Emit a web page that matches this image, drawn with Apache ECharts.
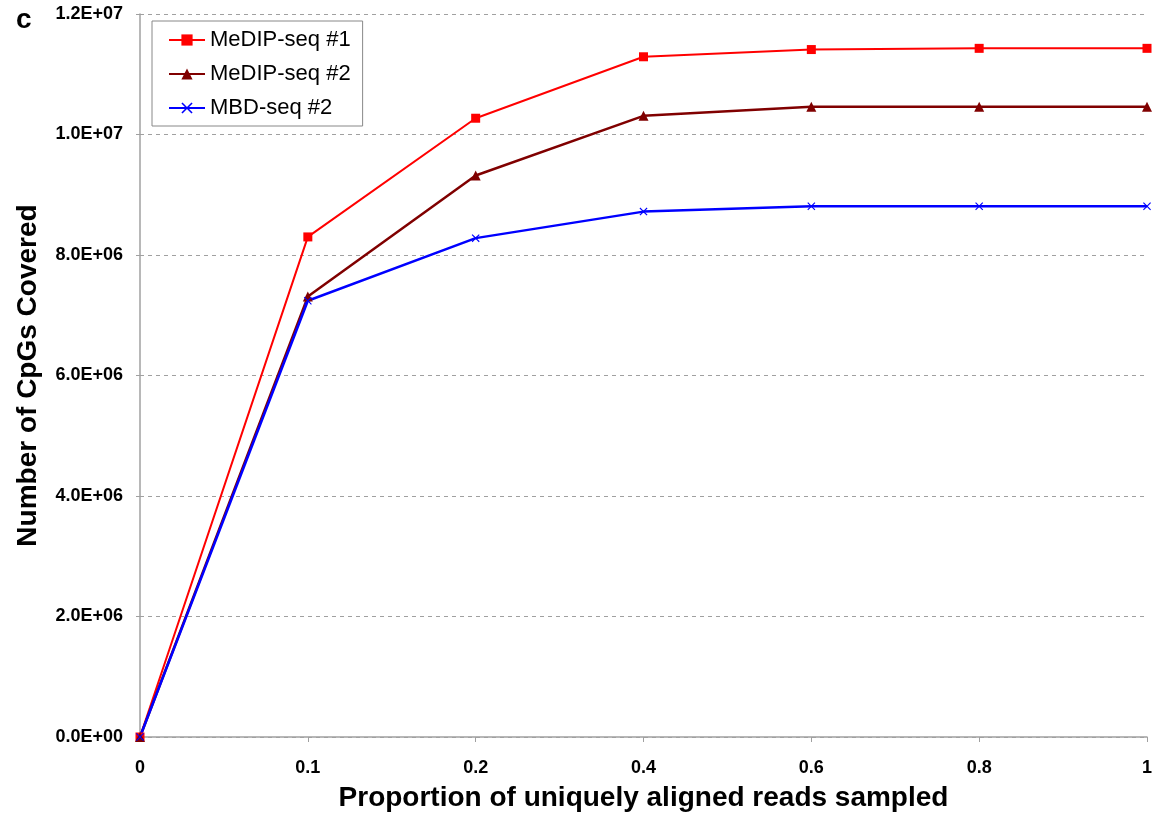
<!DOCTYPE html>
<html>
<head>
<meta charset="utf-8">
<script src="https://cdn.jsdelivr.net/npm/echarts@6/dist/echarts.min.js"></script>
<style>
html,body{margin:0;padding:0;background:#fff;}
#chart{width:1156px;height:817px;}
</style>
</head>
<body>
<div id="chart"></div>
<script>
const categories = ['0', '0.1', '0.2', '0.4', '0.6', '0.8', '1'];
const medip1 = [0, 8.30e6, 10.27e6, 11.29e6, 11.41e6, 11.43e6, 11.43e6];
const medip2 = [0, 7.31e6, 9.32e6, 10.31e6, 10.46e6, 10.46e6, 10.46e6];
const mbd2 = [0, 7.24e6, 8.28e6, 8.72e6, 8.81e6, 8.81e6, 8.81e6];
const seriesNames = ['MeDIP-seq #1', 'MeDIP-seq #2', 'MBD-seq #2'];
const yTitle = 'Number of CpGs Covered';
const xTitle = 'Proportion of uniquely aligned reads sampled';

const FONT = '"Liberation Sans", Arial, sans-serif';

function sci(v) {
  if (v === 0) return '0.0E+00';
  const e = Math.floor(Math.log10(v) + 1e-9);
  const m = v / Math.pow(10, e);
  return m.toFixed(1) + 'E+' + (e < 10 ? '0' + e : '' + e);
}

const chart = echarts.init(document.getElementById('chart'));
chart.setOption({
  animation: false,
  backgroundColor: '#ffffff',
  textStyle: { fontFamily: FONT },
  graphic: [{
    type: 'text', left: 16, top: 6,
    style: { text: 'c', font: 'bold 28px ' + FONT, fill: '#000' }
  }],
  grid: { left: 140, right: 9, top: 14, bottom: 80, containLabel: false, outerBoundsMode: 'none' },
  legend: {
    left: 152, top: 21,
    orient: 'vertical',
    itemWidth: 36, itemHeight: 14, itemGap: 12,
    padding: [8, 12, 7, 16],
    borderColor: '#888', borderWidth: 1, backgroundColor: '#fff',
    textStyle: { fontSize: 22, color: '#000', fontFamily: FONT },
    data: seriesNames
  },
  xAxis: {
    type: 'category',
    data: categories,
    boundaryGap: false,
    name: xTitle,
    nameLocation: 'middle',
    nameGap: 47,
    nameTextStyle: { fontSize: 28, fontWeight: 'bold', color: '#000', fontFamily: FONT },
    axisLine: { lineStyle: { color: '#a0a0a0', width: 1.5 } },
    axisTick: { show: true, length: 5, inside: false, lineStyle: { color: '#a0a0a0' } },
    axisLabel: { fontSize: 18, fontWeight: 'bold', color: '#000', margin: 22 },
    splitLine: { show: false }
  },
  yAxis: {
    type: 'value',
    min: 0, max: 12e6, interval: 2e6,
    name: yTitle,
    nameLocation: 'middle',
    nameGap: 98,
    nameTextStyle: { fontSize: 28, fontWeight: 'bold', color: '#000', fontFamily: FONT },
    axisLine: { show: true, lineStyle: { color: '#a0a0a0', width: 1.5 } },
    axisTick: { show: true, length: 6, lineStyle: { color: '#a0a0a0', type: 'dashed' } },
    axisLabel: { fontSize: 18, fontWeight: 'bold', color: '#000', margin: 17, formatter: sci },
    splitLine: { show: true, lineStyle: { color: '#a0a0a0', type: [4, 4], width: 1 } }
  },
  series: [
    {
      name: seriesNames[0], type: 'line', data: medip1,
      symbol: 'rect', symbolSize: 9,
      lineStyle: { color: '#ff0000', width: 2 },
      itemStyle: { color: '#ff0000' }
    },
    {
      name: seriesNames[1], type: 'line', data: medip2,
      symbol: 'triangle', symbolSize: 10,
      lineStyle: { color: '#800000', width: 2.5 },
      itemStyle: { color: '#800000' }
    },
    {
      name: seriesNames[2], type: 'line', data: mbd2,
      symbol: 'path://M0,1L1,0L5,4L9,0L10,1L6,5L10,9L9,10L5,6L1,10L0,9L4,5Z', symbolSize: 8,
      lineStyle: { color: '#0000ff', width: 2.5 },
      itemStyle: { color: '#0000ff' }
    }
  ]
});
</script>
</body>
</html>
